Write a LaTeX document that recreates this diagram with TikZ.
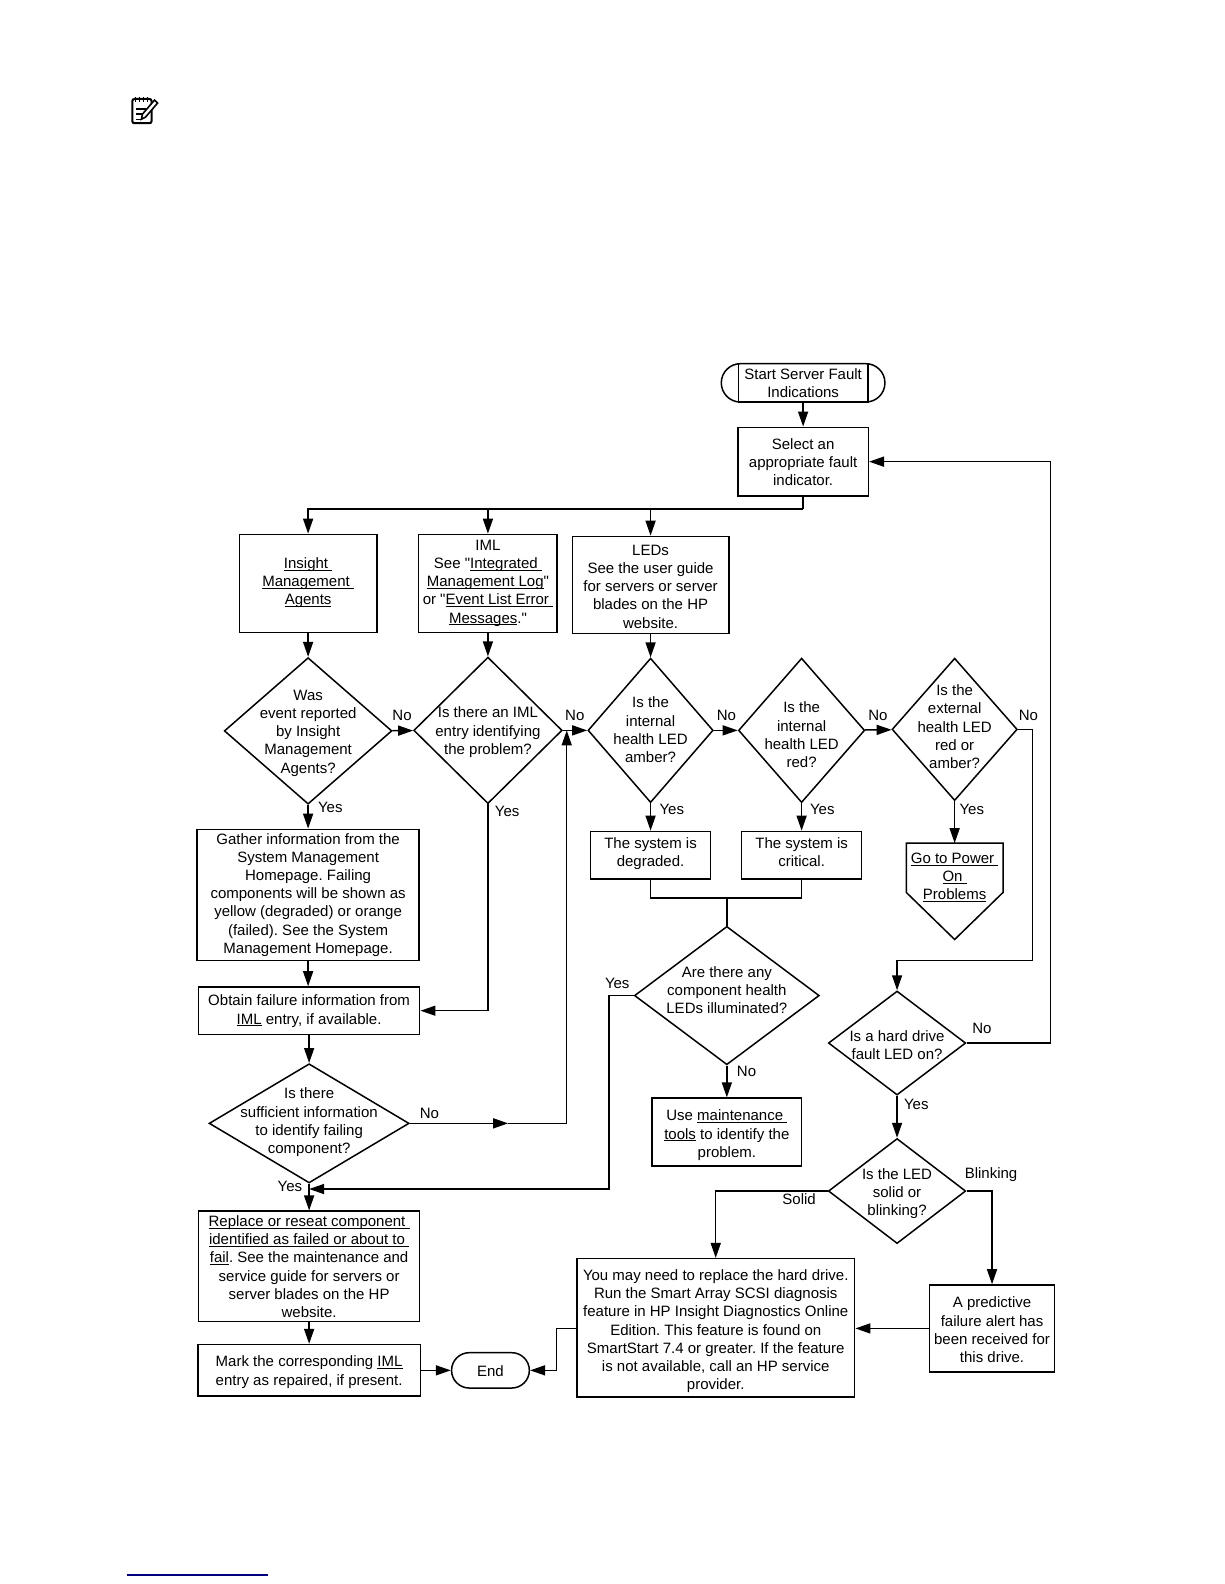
\documentclass[tikz,border=0pt]{standalone}
\usepackage{fontspec}
\setmainfont{Liberation Sans}[Ligatures=TeXOff]
\usetikzlibrary{shapes,arrows.meta}
\newcommand\ntext[2][0]{\smash{\makebox[0pt]{\raisebox{\dimexpr #1pt-2.8pt\relax}{\begin{tabular}{@{}c@{}}#2\end{tabular}}}}}
\newcommand\lnk[1]{\setbox0=\hbox{#1}\rlap{\rule[-1.1pt]{\wd0}{.45pt}}\box0\relax}
\begin{document}
\begin{tikzpicture}[
	x=.50510pt,
	y=-.50510pt,
	font=\fontsize{7.5}{9.1}\selectfont\frenchspacing,
	boxsize/.style 2 args={
	  minimum width=#1*.5051pt,
	  minimum height=#2*.5051pt,
	  inner sep=0pt
	},
	block/.style={
	  rectangle,
	  draw=black,
	  line width=.75pt
	},
	rounded/.style={
	  rounded rectangle,
	  draw=black,
	  line width=.75pt
	},
	decision/.style={
	  diamond,
	  draw=black,
	  line width=.75pt
	},
	tag/.style={inner sep=0pt},
	plain/.style={draw, line width=.75pt},
	line/.style={draw, line width=.75pt, -{Triangle[length=7.5pt,width=5pt]}}
	]
	\useasboundingbox (0,0) rectangle (1211.7,1568);
	\draw[line width=1pt, rounded corners=1pt] (131,98) rectangle (150,122);
	\draw[line width=.7pt] (134,101) -- (134,96) (138,101) -- (138,96) (142,101) -- (142,96) (146,101) -- (146,96);
	\draw[line width=.7pt] (135,108) -- (145,108) (135,113) -- (143,113) (135,118) -- (140,118);
	\draw[line width=.8pt, fill=white] (141,113) -- (153,99) -- (156,102) -- (144,116) -- (140,118) -- cycle;
	\draw[line width=1pt, draw=blue!50!black] (125.7,1559) -- (265.3,1559);

	\node [rounded, boxsize={162}{38}] at (795,379) (startcap) {};
	\node [block, boxsize={128}{38}] at (795,379) (start) {\ntext{Start Server Fault\\Indications}};
	\node [block, boxsize={129}{68}] at (795,457) (select) {\ntext{Select an\\appropriate fault\\indicator.}};
	\node [block, boxsize={136}{97}] at (305,577.5) (insight) {\ntext[1.25]{\lnk{Insight\ }\\\lnk{Management\ }\\\lnk{Agents}}};
	\node [block, boxsize={137}{97}] at (483,577.5) (iml) {\ntext[1.25]{IML\\See "\lnk{Integrated\ }\\\lnk{Management Log}"\\or "\lnk{Event List Error\ }\\\lnk{Messages}."}};
	\node [block, boxsize={155}{96}] at (644,579) (leds) {\ntext[-.5]{LEDs\\See the user guide\\for servers or server\\blades on the HP\\website.}};
	\node [decision, boxsize={166}{145}] at (305,723.5) (reported) {\ntext{Was\\event reported\\by Insight\\Management\\Agents?}};
	\node [decision, boxsize={147}{145}] at (483,723) (entry) {\ntext{Is there an IML\\entry identifying\\the problem?}};
	\node [decision, boxsize={124}{143}] at (644,723) (amber) {\ntext[.5]{Is the\\internal\\health LED\\amber?}};
	\node [decision, boxsize={125}{143}] at (793.5,723) (red) {\ntext[-2]{Is the\\internal\\health LED\\red?}};
	\node [decision, boxsize={124}{141}] at (945,722) (external) {\ntext[1.5]{Is the\\external\\health LED\\red or\\amber?}};
	\node [block, boxsize={220}{130}] at (305,886) (gather) {\ntext[1]{Gather information from the\\System Management\\Homepage. Failing\\components will be shown as\\yellow (degraded) or orange\\(failed). See the System\\Management Homepage.}};
	\node [block, boxsize={219}{47}] at (306,1000.5) (obtain) {\ntext[.75]{Obtain failure information from\\\lnk{IML} entry, if available.}};
	\node [decision, boxsize={198}{118}] at (306,1112) (sufficient) {\ntext[1.5]{Is there\\sufficient information\\to identify failing\\component?}};
	\node [block, boxsize={219}{109}] at (306,1253.5) (replace) {\ntext{\lnk{Replace or reseat component\ }\\\lnk{identified as failed or about to\ }\\\lnk{fail}. See the maintenance and\\service guide for servers or\\server blades on the HP\\website.}};
	\node [block, boxsize={220}{51}] at (306,1356.5) (mark) {\ntext{Mark the corresponding \lnk{IML}\\entry as repaired, if present.}};
	\node [rounded, boxsize={77}{35}] at (485.5,1356.5) (end) {\ntext{End}};
	\node [block, boxsize={119}{47}] at (644,846.5) (degraded) {\ntext[1.75]{The system is\\degraded.}};
	\node [block, boxsize={119}{47}] at (793.5,846.5) (critical) {\ntext[1.75]{The system is\\critical.}};
	\node [boxsize={95}{48}] at (945,859) (power) {\ntext[-4]{\lnk{Go to Power\ }\\\lnk{On\ }\\\lnk{Problems}}};
	\coordinate (powertip) at (945,930);
	\draw[plain] (power.north west) -- (power.north east) -- (power.south east) -- (powertip) -- (power.south west) -- cycle;
	\node [decision, boxsize={183}{137}] at (719.5,985.5) (illuminated) {\ntext[3]{Are there any\\component health\\LEDs illuminated?}};
	\node [block, boxsize={148}{67}] at (719.5,1120.5) (tools) {\ntext[-.75]{Use \lnk{maintenance\ }\\\lnk{tools} to identify the\\problem.}};
	\node [decision, boxsize={136}{103}] at (888,1032.5) (harddrive) {\ntext[-.75]{Is a hard drive\\fault LED on?}};
	\node [decision, boxsize={136}{104}] at (888,1179) (blinking) {\ntext[-.5]{Is the LED\\solid or\\blinking?}};
	\node [block, boxsize={275}{137}] at (708.5,1314.5) (replacedrive) {\ntext[-.75]{You may need to replace the hard drive.\\Run the Smart Array SCSI diagnosis\\feature in HP Insight Diagnostics Online\\Edition. This feature is found on\\SmartStart 7.4 or greater. If the feature\\is not available, call an HP service\\provider.}};
	\node [block, boxsize={124}{86}] at (982,1315) (alert) {\ntext[-.5]{A predictive\\failure alert has\\been received for\\this drive.}};

	\node [tag] at (398,708) (noreported) {No};
	\node [tag] at (327,799) (yesreported) {Yes};
	\node [tag] at (569,708) (noentry) {No};
	\node [tag] at (502,803) (yesentry) {Yes};
	\node [tag] at (665,801) (yesamber) {Yes};
	\node [tag] at (719,708) (noamber) {No};
	\node [tag] at (814,801) (yesred) {Yes};
	\node [tag] at (869,708) (nored) {No};
	\node [tag] at (962,801) (yesexternal) {Yes};
	\node [tag] at (1018,708) (noexternal) {No};
	\node [tag] at (611,973) (yesilluminated) {Yes};
	\node [tag] at (739,1061) (noilluminated) {No};
	\node [tag] at (425,1102) (nosufficient) {No};
	\node [tag] at (287,1174) (yessufficient) {Yes};
	\node [tag] at (972,1018) (noharddrive) {No};
	\node [tag] at (907,1093) (yesharddrive) {Yes};
	\node [tag] at (981,1163) (blinktag) {Blinking};
	\node [tag] at (791,1187) (solidtag) {Solid};

	\coordinate (fork) at (795,504);
	\coordinate (joinentry) at (561,723);
	\coordinate (midsufficient) at (503,1112);
	\coordinate (joindegraded) at (719.5,889);
	\coordinate (externalright) at (1022,722);
	\coordinate (harddriveabove) at (888,951);
	\coordinate (harddriveright) at (1040,1032.5);
	\coordinate (illuminatedleft) at (603,985.5);
	\coordinate (replaceabove) at (306,1177);
	\coordinate (driveleft) at (551,1315);

	\path[line] (startcap.south) -- (select.north);
	\path[plain] (select.south) -- (fork);
	\path[line] (fork) -| (insight.north);
	\path[line] (fork) -| (iml.north);
	\path[line] (fork) -| (leds.north);
	\path[line] (insight) -- (reported);
	\path[line] (iml) -- (entry);
	\path[line] (leds) -- (amber);
	\path[line] (reported) -- (entry);
	\path[line] (entry) -- (amber);
	\path[line] (amber) -- (red);
	\path[line] (red) -- (external);
	\path[line] (reported) -- (gather);
	\path[line] (amber) -- (degraded);
	\path[line] (red) -- (critical);
	\path[line] (external.south) -- (power.north);
	\path[line] (gather) -- (obtain.north -| gather);
	\path[line] (entry) |- (obtain);
	\path[line] (obtain) -- (sufficient);
	\path[line] (sufficient) -- (midsufficient);
	\path[line] (midsufficient) -| (joinentry);
	\path[line] (sufficient) -- (replace);
	\path[line] (replace) -- (mark);
	\path[line] (mark) -- (end);
	\path[plain] (degraded) |- (joindegraded);
	\path[plain] (critical) |- (joindegraded);
	\path[plain] (joindegraded) -- (illuminated);
	\path[line] (illuminated) -- (tools);
	\path[line] (illuminated.west) -- (illuminatedleft) |- (replaceabove);
	\path[line] (external.east) -- (externalright) |- (harddriveabove) -- (harddrive.north);
	\path[line] (harddrive.east) -- (harddriveright) |- (select.east);
	\path[line] (harddrive) -- (blinking);
	\path[line] (blinking.west) -| (replacedrive.north);
	\path[line] (blinking.east) -| (alert.north);
	\path[line] (alert) -- (replacedrive.east |- alert);
	\path[line] (replacedrive.west |- driveleft) -- (driveleft) |- (end.east);
\end{tikzpicture}
\end{document}
